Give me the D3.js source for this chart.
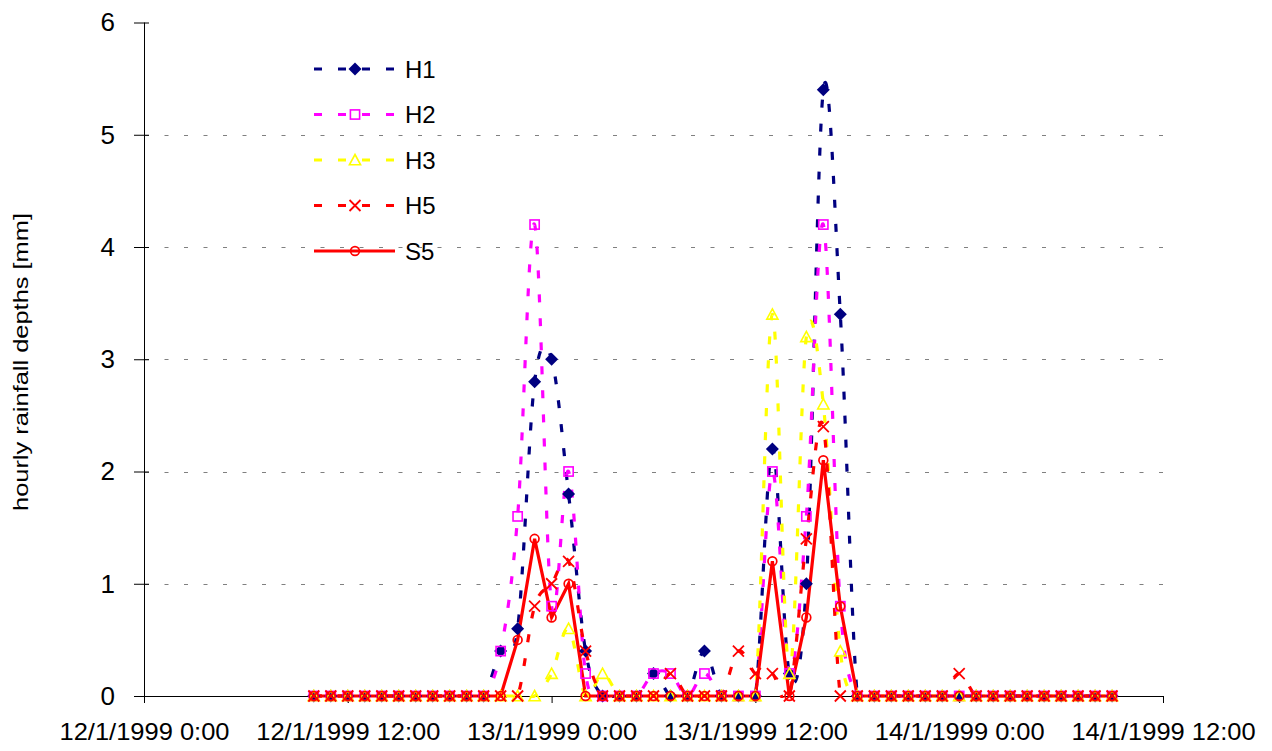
<!DOCTYPE html>
<html>
<head>
<meta charset="utf-8">
<script src="https://cdn.jsdelivr.net/npm/d3@7"></script>
<style>
  body { margin: 0; background: #fff; }
  text { font-family: Arial, "Liberation Sans", sans-serif; fill: #000; }
</style>
</head>
<body>
<script>
// hourly values, first point 12/1/1999 10:00, last 14/1/1999 9:00
var startTime = new Date(1999, 0, 12, 10);
var endTime = new Date(1999, 0, 14, 10);
var times = d3.timeHour.range(startTime, endTime);

var H1 = [0, 0, 0, 0, 0, 0, 0, 0, 0, 0, 0, 0.4,
  0.6, 2.8, 3.0, 1.8, 0.4, 0, 0, 0, 0.2, 0, 0, 0.4,
  0, 0, 0, 2.2, 0.2, 1.0, 5.4, 3.4, 0, 0, 0, 0,
  0, 0, 0, 0, 0, 0, 0, 0, 0, 0, 0, 0];
var H2 = [0, 0, 0, 0, 0, 0, 0, 0, 0, 0, 0, 0.4,
  1.6, 4.2, 0.8, 2.0, 0.2, 0, 0, 0, 0.2, 0.2, 0, 0.2,
  0, 0, 0, 2.0, 0.2, 1.6, 4.2, 0.8, 0, 0, 0, 0,
  0, 0, 0, 0, 0, 0, 0, 0, 0, 0, 0, 0];
var H3 = [0, 0, 0, 0, 0, 0, 0, 0, 0, 0, 0, 0,
  0, 0, 0.2, 0.6, 0, 0.2, 0, 0, 0, 0, 0, 0,
  0, 0, 0, 3.4, 0.2, 3.2, 2.6, 0.4, 0, 0, 0, 0,
  0, 0, 0, 0, 0, 0, 0, 0, 0, 0, 0, 0];
var H5 = [0, 0, 0, 0, 0, 0, 0, 0, 0, 0, 0, 0,
  0, 0.8, 1.0, 1.2, 0.4, 0, 0, 0, 0, 0.2, 0, 0,
  0, 0.4, 0.2, 0.2, 0, 1.4, 2.4, 0, 0, 0, 0, 0,
  0, 0, 0.2, 0, 0, 0, 0, 0, 0, 0, 0, 0];
var S5 = [0, 0, 0, 0, 0, 0, 0, 0, 0, 0, 0, 0,
  0.5, 1.4, 0.7, 1.0, 0, 0, 0, 0, 0, 0, 0, 0,
  0, 0, 0, 1.2, 0, 0.7, 2.1, 0.8, 0, 0, 0, 0,
  0, 0, 0, 0, 0, 0, 0, 0, 0, 0, 0, 0];

var seriesNames = ['H1', 'H2', 'H3', 'H5', 'S5'];
var yTicks = [0, 1, 2, 3, 4, 5, 6];
var xTickLabels = ['12/1/1999 0:00', '12/1/1999 12:00', '13/1/1999 0:00',
  '13/1/1999 12:00', '14/1/1999 0:00', '14/1/1999 12:00'];

var series = [
  { name: 'H1', values: H1, color: '#000080', dash: '8,16', smooth: true, marker: 'diamond' },
  { name: 'H2', values: H2, color: '#ff00ff', dash: '8,16', smooth: true, marker: 'square' },
  { name: 'H3', values: H3, color: '#ffff00', dash: '8,16', smooth: true, marker: 'triangle' },
  { name: 'H5', values: H5, color: '#ff0000', dash: '8,16', smooth: true, marker: 'cross' },
  { name: 'S5', values: S5, color: '#ff0000', dash: null, smooth: false, marker: 'circle' }
];

var width = 1272, height = 751;
var plot = { left: 144, right: 1163, top: 22.5, bottom: 696 };

var svg = d3.select('body').append('svg')
  .attr('width', width)
  .attr('height', height);

var x = d3.scaleTime()
  .domain([new Date(1999, 0, 12, 0), new Date(1999, 0, 14, 12)])
  .range([plot.left, plot.right]);
var y = d3.scaleLinear().domain([0, 6]).range([plot.bottom, plot.top]);

var xTickDates = d3.timeHour.every(12).range(new Date(1999, 0, 12, 0), new Date(1999, 0, 14, 13));

// gridlines
svg.append('g')
  .selectAll('line')
  .data(yTicks.filter(function(d) { return d > 0 && d < 6; }))
  .enter().append('line')
  .attr('x1', plot.left + 1)
  .attr('x2', plot.right)
  .attr('y1', function(d) { return Math.round(y(d)) + 0.5; })
  .attr('y2', function(d) { return Math.round(y(d)) + 0.5; })
  .attr('stroke', '#808080')
  .attr('stroke-width', 1.2)
  .attr('stroke-dasharray', '4,15.5');

// y axis
var yAxis = d3.axisLeft(y).tickValues(yTicks).tickSize(10).tickPadding(19)
  .tickFormat(d3.format('d'));
var gy = svg.append('g')
  .attr('transform', 'translate(' + plot.left + ',0)')
  .call(yAxis);
gy.select('.domain').attr('stroke', '#000').attr('stroke-width', 1);
gy.selectAll('.tick line').attr('x2', -10).attr('x1', 5).attr('stroke', '#000');
gy.selectAll('.tick text')
  .attr('font-size', 26)
  .attr('fill', '#000');
gy.select('.domain').attr('d', 'M0.5,' + plot.top + 'V' + plot.bottom);

// x axis
var xAxis = d3.axisBottom(x)
  .tickValues(xTickDates)
  .tickSize(7)
  .tickPadding(20)
  .tickFormat(function(d, i) { return xTickLabels[i]; });
var gx = svg.append('g')
  .attr('transform', 'translate(0,' + plot.bottom + ')')
  .call(xAxis);
gx.select('.domain').attr('d', 'M' + plot.left + ',0.5H' + plot.right).attr('stroke', '#000');
gx.selectAll('.tick line').attr('stroke', '#000');
var xTexts = gx.selectAll('.tick text')
  .attr('font-size', 24)
  .attr('fill', '#000');
// stretch labels a little, the original font is wider
var firstLen = xTexts.node().getComputedTextLength();
var stretch = 170 / firstLen;
xTexts.each(function() {
  var len = this.getComputedTextLength();
  d3.select(this).attr('textLength', len * stretch).attr('lengthAdjust', 'spacingAndGlyphs');
});

// y title
svg.append('text')
  .attr('transform', 'translate(28,362) rotate(-90)')
  .attr('text-anchor', 'middle')
  .attr('font-size', 20)
  .attr('textLength', 298)
  .attr('lengthAdjust', 'spacingAndGlyphs')
  .text('hourly rainfall depths [mm]');

// markers
function drawMarker(g, type, color) {
  if (type === 'diamond') {
    g.append('path').attr('d', 'M0,-6.5L6.5,0L0,6.5L-6.5,0Z').attr('fill', color);
  } else if (type === 'square') {
    g.append('rect').attr('x', -4.6).attr('y', -4.6).attr('width', 9.2).attr('height', 9.2)
      .attr('fill', 'none').attr('stroke', color).attr('stroke-width', 1.6);
  } else if (type === 'triangle') {
    g.append('path').attr('d', 'M0,-5.5L5.6,4.8L-5.6,4.8Z')
      .attr('fill', 'none').attr('stroke', color).attr('stroke-width', 1.6);
  } else if (type === 'cross') {
    g.append('path').attr('d', 'M-5.5,-5.5L5.5,5.5M-5.5,5.5L5.5,-5.5')
      .attr('fill', 'none').attr('stroke', color).attr('stroke-width', 1.8);
  } else if (type === 'circle') {
    g.append('circle').attr('r', 4.4)
      .attr('fill', 'none').attr('stroke', color).attr('stroke-width', 1.7);
  }
}

svg.append('clipPath').attr('id', 'clip')
  .append('rect')
  .attr('x', plot.left).attr('y', plot.top - 10)
  .attr('width', plot.right - plot.left).attr('height', plot.bottom - plot.top + 12);

// smoothed lines like the spreadsheet (uniform catmull-rom)
var linesG = svg.append('g').attr('clip-path', 'url(#clip)');
series.forEach(function(s) {
  var line = d3.line()
    .x(function(d, i) { return x(times[i]); })
    .y(function(d) { return y(d); })
    .curve(s.smooth ? d3.curveCatmullRom.alpha(0) : d3.curveLinear);
  linesG.append('path')
    .datum(s.values)
    .attr('d', line)
    .attr('fill', 'none')
    .attr('stroke', s.color)
    .attr('stroke-width', 3.2)
    .attr('stroke-dasharray', s.dash);
});

series.forEach(function(s) {
  var mg = svg.append('g');
  s.values.forEach(function(v, i) {
    var g = mg.append('g').attr('transform', 'translate(' + x(times[i]) + ',' + y(v) + ')');
    drawMarker(g, s.marker, s.color);
  });
});

// legend
var legendRows = [69, 114.5, 160, 205.5, 251];
var legend = svg.append('g');
series.forEach(function(s, i) {
  var row = legend.append('g').attr('transform', 'translate(0,' + legendRows[i] + ')');
  row.append('line')
    .attr('x1', 314).attr('x2', 395).attr('y1', 0).attr('y2', 0)
    .attr('stroke', s.color).attr('stroke-width', 3.2)
    .attr('stroke-dasharray', s.dash);
  var mk = row.append('g').attr('transform', 'translate(355,0)');
  drawMarker(mk, s.marker, s.color);
  row.append('text')
    .attr('x', 405).attr('y', 8.5)
    .attr('font-size', 24)
    .text(seriesNames[i]);
});
</script>
</body>
</html>
